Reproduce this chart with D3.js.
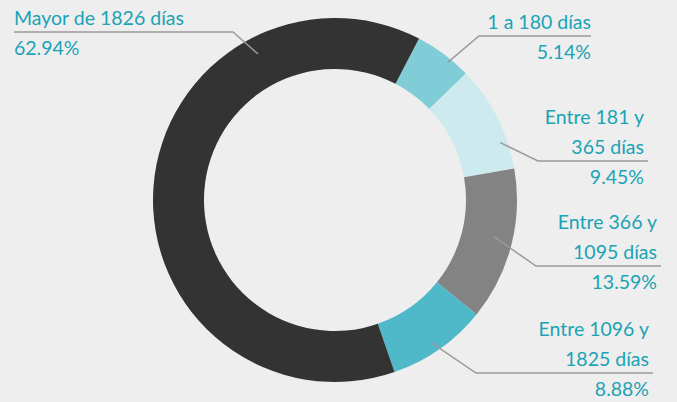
<!DOCTYPE html>
<html>
<head>
<meta charset="utf-8">
<script src="https://cdn.jsdelivr.net/npm/d3@7"></script>
<style>
  html, body { margin: 0; padding: 0; background: #eeeeee; }
  svg { display: block; }
  text { font-family: Lato, "Open Sans", sans-serif; font-size: 19.5px; font-weight: 400; fill: #1aa3b5; }
</style>
</head>
<body>
<svg id="chart" width="677" height="402"></svg>
<script>
// Slice data, in clockwise order starting from the upper right
const categories = ["1 a 180 días", "Entre 181 y 365 días", "Entre 366 y 1095 días", "Entre 1096 y 1825 días", "Mayor de 1826 días"];
const values = [5.14, 9.45, 13.59, 8.88, 62.94];
const colors = ["#80cdd7", "#cdebef", "#838383", "#4fb9c9", "#333333"];

// Label lines for each slice (text shown above and below the leader line)
const labelLines = [
  ["1 a 180 días"],
  ["Entre 181 y", "365 días"],
  ["Entre 366 y", "1095 días"],
  ["Entre 1096 y", "1825 días"],
  ["Mayor de 1826 días"]
];

// Label layout: where the leader meets the slice (fraction of the slice arc, radius),
// the horizontal run of the leader, and the text anchor
const labelLayout = [
  { frac: 0.64, r: 178, elbowX: 479, endX: 591, lineY: 36,  textX: 591, align: "end" },
  { frac: 0.73, r: 175, elbowX: 538, endX: 648, lineY: 161, textX: 644, align: "end" },
  { frac: 0.47, r: 163, elbowX: 536, endX: 661, lineY: 266, textX: 657, align: "end" },
  { frac: 0.53, r: 173, elbowX: 476, endX: 653, lineY: 373, textX: 649, align: "end" },
  { frac: 0.756, r: 165, elbowX: 233, endX: 14, lineY: 32, textX: 14, align: "start" }
];

const width = 677, height = 402;
const cx = 335, cy = 200, outerR = 182, innerR = 131;
const startDeg = 27.5;

const svg = d3.select("#chart");
const g = svg.append("g").attr("transform", `translate(${cx},${cy})`);

const pie = d3.pie()
  .value(d => d)
  .sort(null)
  .startAngle(startDeg * Math.PI / 180)
  .endAngle((startDeg + 360) * Math.PI / 180);

const arcs = pie(values);
const arc = d3.arc().innerRadius(innerR).outerRadius(outerR);

g.selectAll("path.slice")
  .data(arcs)
  .join("path")
  .attr("class", "slice")
  .attr("d", arc)
  .attr("fill", (d, i) => colors[i]);

// Leader lines and labels
const lineGap = 30;
arcs.forEach((a, i) => {
  const L = labelLayout[i];
  const ang = a.startAngle + (a.endAngle - a.startAngle) * L.frac;
  const px = cx + L.r * Math.sin(ang);
  const py = cy - L.r * Math.cos(ang);

  svg.append("polyline")
    .attr("points", `${px},${py} ${L.elbowX},${L.lineY} ${L.endX},${L.lineY}`)
    .attr("fill", "none")
    .attr("stroke", "#9a9a9a")
    .attr("stroke-width", 1.5);

  const lines = labelLines[i];
  lines.forEach((t, k) => {
    svg.append("text")
      .attr("x", L.textX)
      .attr("y", L.lineY - 7 - (lines.length - 1 - k) * lineGap)
      .attr("text-anchor", L.align)
      .text(t);
  });
  svg.append("text")
    .attr("x", L.textX)
    .attr("y", L.lineY + 23)
    .attr("text-anchor", L.align)
    .text(values[i].toFixed(2) + "%");
});
</script>
</body>
</html>
